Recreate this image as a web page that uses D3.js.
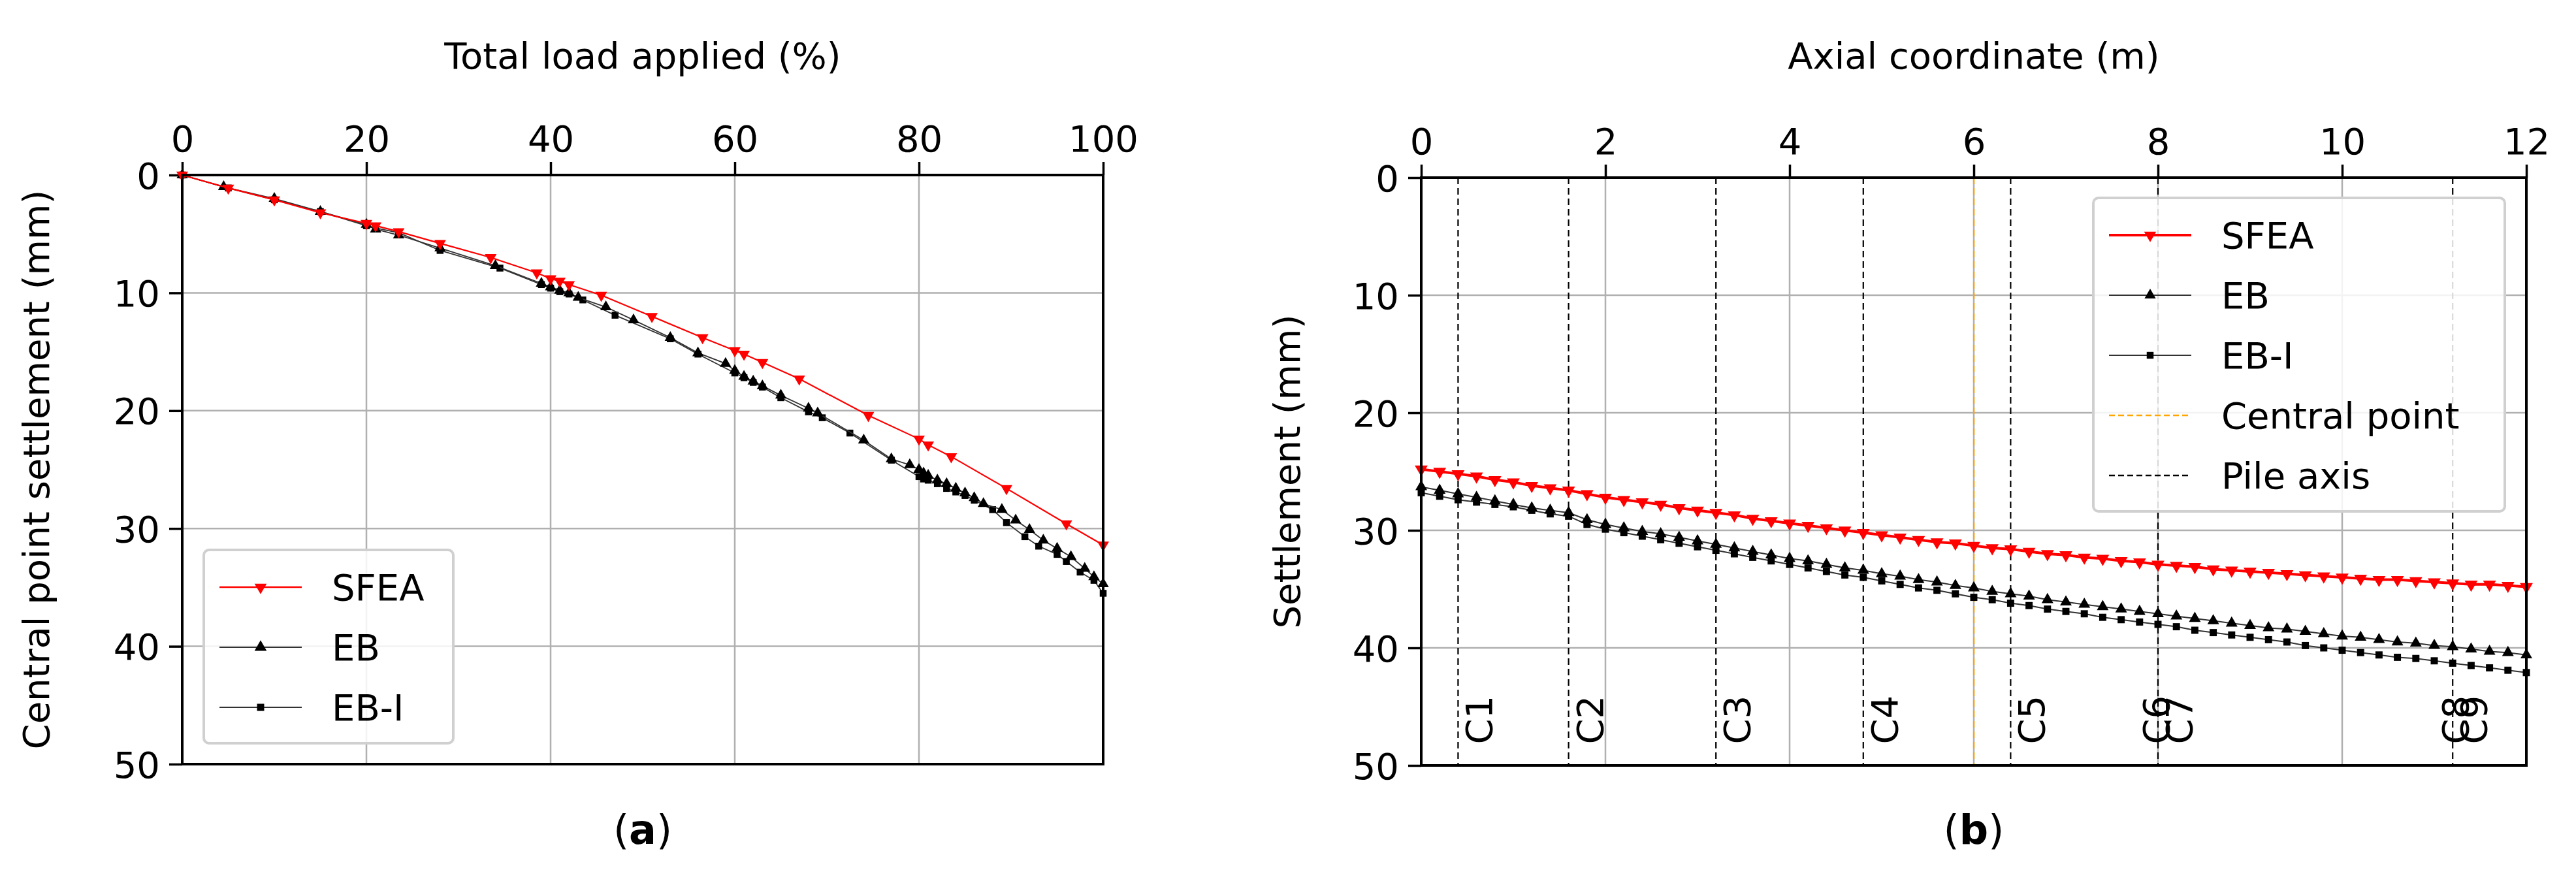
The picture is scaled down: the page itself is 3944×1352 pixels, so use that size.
<!DOCTYPE html>
<html><head><meta charset="utf-8">
<script src="https://cdn.jsdelivr.net/npm/d3@7"></script>
<style>body{margin:0;background:#fff}text{font-family:"DejaVu Sans",sans-serif}</style>
</head><body><svg id="c" width="3944" height="1352"></svg>
<script>
// Panel (a)
const loadA = [0,5,10,15,20,21,23.5,28,33.5,38.5,40,41,42,45.5,51,56.5,60,61,63,67,74.5,80,81,83.5,89.5,96,100];
const sfeaA = [0,1.1,2.1,3.2,4.1,4.3,4.8,5.8,7.0,8.3,8.8,9.0,9.3,10.2,12.0,13.8,14.9,15.2,15.9,17.3,20.4,22.4,22.9,23.9,26.6,29.6,31.4];
const loadEB = [0,4.5,10,15,20,21,23.5,28,34,39,40,41,42,43,46,49,53,56,59,60,61,62,63,65,68,69,74,77,79,80,80.5,81,82,83,84,85,86,87,89,90.5,92,93.5,95,96.5,98,99,100];
const ebA = [0,1,2,3.1,4.2,4.6,5.1,6.2,7.7,9.2,9.5,9.8,10.0,10.4,11.2,12.3,13.8,15.1,16.0,16.6,17.1,17.5,17.9,18.7,19.8,20.2,22.5,24.1,24.6,25.0,25.3,25.5,25.9,26.2,26.6,27.0,27.4,27.9,28.4,29.3,30.1,31.0,31.7,32.4,33.4,34.1,34.7];
const loadEBI = [0,5,10,15,20,21,23.5,28,34.5,39,40,41,42,43.5,47,53,56,60,61,62,63,65,68,69.5,72.5,77,80,80.5,81,82,83,84,85,86,88,89.5,91.5,93,95,96,97.5,99,100];
const ebiA = [0,1.1,2.1,3.1,4.3,4.5,4.9,6.4,7.9,9.3,9.6,9.9,10.1,10.6,11.9,13.9,15.2,16.8,17.2,17.6,18.0,18.9,20.1,20.6,21.9,24.2,25.6,25.8,25.9,26.2,26.6,26.9,27.2,27.6,28.4,29.5,30.7,31.5,32.2,32.8,33.7,34.4,35.5];
// Panel (b)
const axialX = d3.range(61).map(i => +(i*0.2).toFixed(1));
const sfeaB = [24.8,25.0,25.2,25.4,25.7,25.9,26.2,26.4,26.6,26.9,27.2,27.4,27.6,27.8,28.1,28.3,28.5,28.7,29.0,29.2,29.4,29.6,29.8,30.0,30.2,30.4,30.6,30.8,31.0,31.1,31.3,31.5,31.6,31.8,32.0,32.1,32.3,32.4,32.6,32.7,32.9,33.0,33.1,33.3,33.4,33.5,33.6,33.7,33.8,33.9,34.0,34.1,34.2,34.2,34.3,34.4,34.5,34.6,34.6,34.7,34.8];
const ebB = [26.3,26.6,26.9,27.2,27.5,27.8,28.1,28.3,28.5,29.1,29.5,29.8,30.1,30.3,30.6,30.9,31.2,31.5,31.8,32.1,32.4,32.6,32.9,33.2,33.4,33.7,33.9,34.2,34.4,34.7,34.9,35.2,35.4,35.6,35.9,36.1,36.3,36.5,36.7,36.9,37.1,37.3,37.5,37.7,37.9,38.1,38.3,38.4,38.6,38.8,39.0,39.1,39.3,39.5,39.6,39.8,39.9,40.1,40.3,40.4,40.6];
const ebiB = [26.8,27.1,27.4,27.6,27.8,28.0,28.3,28.6,28.8,29.5,29.9,30.2,30.5,30.8,31.1,31.4,31.7,32.0,32.3,32.6,32.9,33.2,33.5,33.8,34.0,34.3,34.6,34.9,35.1,35.4,35.7,35.9,36.2,36.4,36.7,36.9,37.1,37.4,37.6,37.8,38.0,38.2,38.5,38.7,38.9,39.1,39.3,39.5,39.8,40.0,40.2,40.4,40.6,40.8,40.9,41.1,41.3,41.5,41.7,41.9,42.1];
const pileX = [0.4,1.6,3.2,4.8,6.4,8.0,11.2];
const pileLabels = [["C1",0.4],["C2",1.6],["C3",3.2],["C4",4.8],["C5",6.4],["C6",7.75],["C7",8.0],["C8",11.0],["C9",11.2]];
const centralX = 6;
const ticksA = [0,20,40,60,80,100], ticksB = [0,2,4,6,8,10,12], ticksY = [0,10,20,30,40,50];

const svg = d3.select("#c");
const FS = 56;
const tri = d3.symbol().type(d3.symbolTriangle);
const sq = d3.symbol().type(d3.symbolSquare);

function panel(o){
  const x = d3.scaleLinear().domain(o.xd).range([o.x0,o.x1]);
  const y = d3.scaleLinear().domain([0,50]).range([o.y0,o.y1]);
  const g = svg.append("g");
  // grid
  g.selectAll(".gx").data(o.xt).enter().append("line").attr("x1",d=>x(d)).attr("x2",d=>x(d)).attr("y1",o.y0).attr("y2",o.y1).attr("stroke","#b0b0b0").attr("stroke-width",2.5);
  g.selectAll(".gy").data(ticksY).enter().append("line").attr("y1",d=>y(d)).attr("y2",d=>y(d)).attr("x1",o.x0).attr("x2",o.x1).attr("stroke","#b0b0b0").attr("stroke-width",2.5);
  // axes
  const ax = d3.axisTop(x).tickValues(o.xt).tickSize(20).tickPadding(16).tickFormat(d3.format("d"));
  const ay = d3.axisLeft(y).tickValues(ticksY).tickSize(20).tickPadding(14);
  const gx = g.append("g").attr("transform",`translate(0,${o.y0})`).call(ax);
  const gy = g.append("g").attr("transform",`translate(${o.x0},0)`).call(ay);
  [gx,gy].forEach(a=>{a.select(".domain").remove();a.selectAll("line").attr("stroke","#000").attr("stroke-width",3.5);a.selectAll("text").attr("font-size",FS).attr("font-family","DejaVu Sans").attr("fill","#000");});
  gy.selectAll("text").attr("dy","0.36em");
  g.append("text").attr("x",(o.x0+o.x1)/2).attr("y",105).attr("text-anchor","middle").attr("font-size",FS).text(o.xl);
  g.append("text").attr("transform",`translate(${o.yl_x},${(o.y0+o.y1)/2}) rotate(-90)`).attr("text-anchor","middle").attr("font-size",FS).text(o.yl);
  g.append("text").attr("x",(o.x0+o.x1)/2).attr("y",1292).attr("text-anchor","middle").attr("font-size",62).attr("font-family","Liberation Serif, serif").html(`(<tspan font-weight="bold">${o.cap}</tspan>)`);
  o.draw(g,x,y);
  g.append("rect").attr("x",o.x0).attr("y",o.y0).attr("width",o.x1-o.x0).attr("height",o.y1-o.y0).attr("fill","none").attr("stroke","#000").attr("stroke-width",4);
  return {g,x,y};
}

function series(g,x,y,xs,ys,color,lw,sym,size,rot){
  const clip = g.append("g");
  clip.append("path").datum(xs.map((d,i)=>[d,ys[i]])).attr("d",d3.line().x(d=>x(d[0])).y(d=>y(d[1]))).attr("fill","none").attr("stroke",color).attr("stroke-width",lw);
  clip.selectAll(".m").data(xs.map((d,i)=>[d,ys[i]])).enter().append("path").attr("d",sym.size(size)).attr("fill",color==="red"?"red":"#000")
    .attr("transform",d=>`translate(${x(d[0])},${y(d[1])}) rotate(${rot})`);
}

function legend(g,x0,y0,w,h,items,fs,rowH){
  g.append("rect").attr("x",x0).attr("y",y0).attr("width",w).attr("height",h).attr("rx",8).attr("fill","rgba(255,255,255,0.85)").attr("stroke","#d0d0d0").attr("stroke-width",4);
  items.forEach((it,i)=>{
    const cy = y0+rowH*0.62+i*rowH;
    const l = g.append("line").attr("x1",x0+24).attr("x2",x0+150).attr("y1",cy).attr("y2",cy).attr("stroke",it.c).attr("stroke-width",it.lw);
    if(it.dash) l.attr("stroke-dasharray","9,5");
    if(it.sym) g.append("path").attr("d",it.sym.size(it.s)).attr("fill",it.c==="red"?"red":"#000").attr("transform",`translate(${x0+87},${cy}) rotate(${it.r||0})`);
    g.append("text").attr("x",x0+196).attr("y",cy).attr("dy","0.36em").attr("font-size",fs).text(it.t);
  });
}

panel({x0:279,x1:1689,y0:268,y1:1170,xd:[0,100],xt:ticksA,xl:"Total load applied (%)",yl:"Central point settlement (mm)",yl_x:75,cap:"a",
  draw:(g,x,y)=>{
    series(g,x,y,loadEBI,ebiA,"#333",1.8,sq,110,0);
    series(g,x,y,loadEB,ebA,"#333",1.8,tri,130,0);
    series(g,x,y,loadA,sfeaA,"red",2.2,tri,140,180);
    legend(g,312,842,382,296,[
      {t:"SFEA",c:"red",lw:2.5,sym:tri,s:150,r:180},
      {t:"EB",c:"#333",lw:2,sym:tri,s:150},
      {t:"EB-I",c:"#333",lw:2,sym:sq,s:120}],FS,92);
  }});

panel({x0:2176,x1:3868,y0:272,y1:1172,xd:[0,12],xt:ticksB,xl:"Axial coordinate (m)",yl:"Settlement (mm)",yl_x:1990,cap:"b",
  draw:(g,x,y)=>{
    g.selectAll(".pile").data(pileX).enter().append("line").attr("x1",d=>x(d)).attr("x2",d=>x(d)).attr("y1",y(0)).attr("y2",y(50)).attr("stroke","#000").attr("stroke-width",2.2).attr("stroke-dasharray","10,6");
    g.append("line").attr("x1",x(centralX)).attr("x2",x(centralX)).attr("y1",y(0)).attr("y2",y(50)).attr("stroke","orange").attr("stroke-width",2.2).attr("stroke-dasharray","10,6");
    g.selectAll(".pl").data(pileLabels).enter().append("text").attr("transform",d=>`translate(${x(d[1])+52},${y(48.2)}) rotate(-90)`).attr("font-size",FS).text(d=>d[0]);
    series(g,x,y,axialX,ebiB,"#333",2,sq,120,0);
    series(g,x,y,axialX,ebB,"#333",2,tri,140,0);
    series(g,x,y,axialX,sfeaB,"red",4,tri,170,180);
    legend(g,3205,303,630,480,[
      {t:"SFEA",c:"red",lw:4,sym:tri,s:150,r:180},
      {t:"EB",c:"#333",lw:2,sym:tri,s:130},
      {t:"EB-I",c:"#333",lw:2,sym:sq,s:110},
      {t:"Central point",c:"orange",lw:2.5,dash:true},
      {t:"Pile axis",c:"#000",lw:2.5,dash:true}],FS,92);
  }});
</script></body></html>
